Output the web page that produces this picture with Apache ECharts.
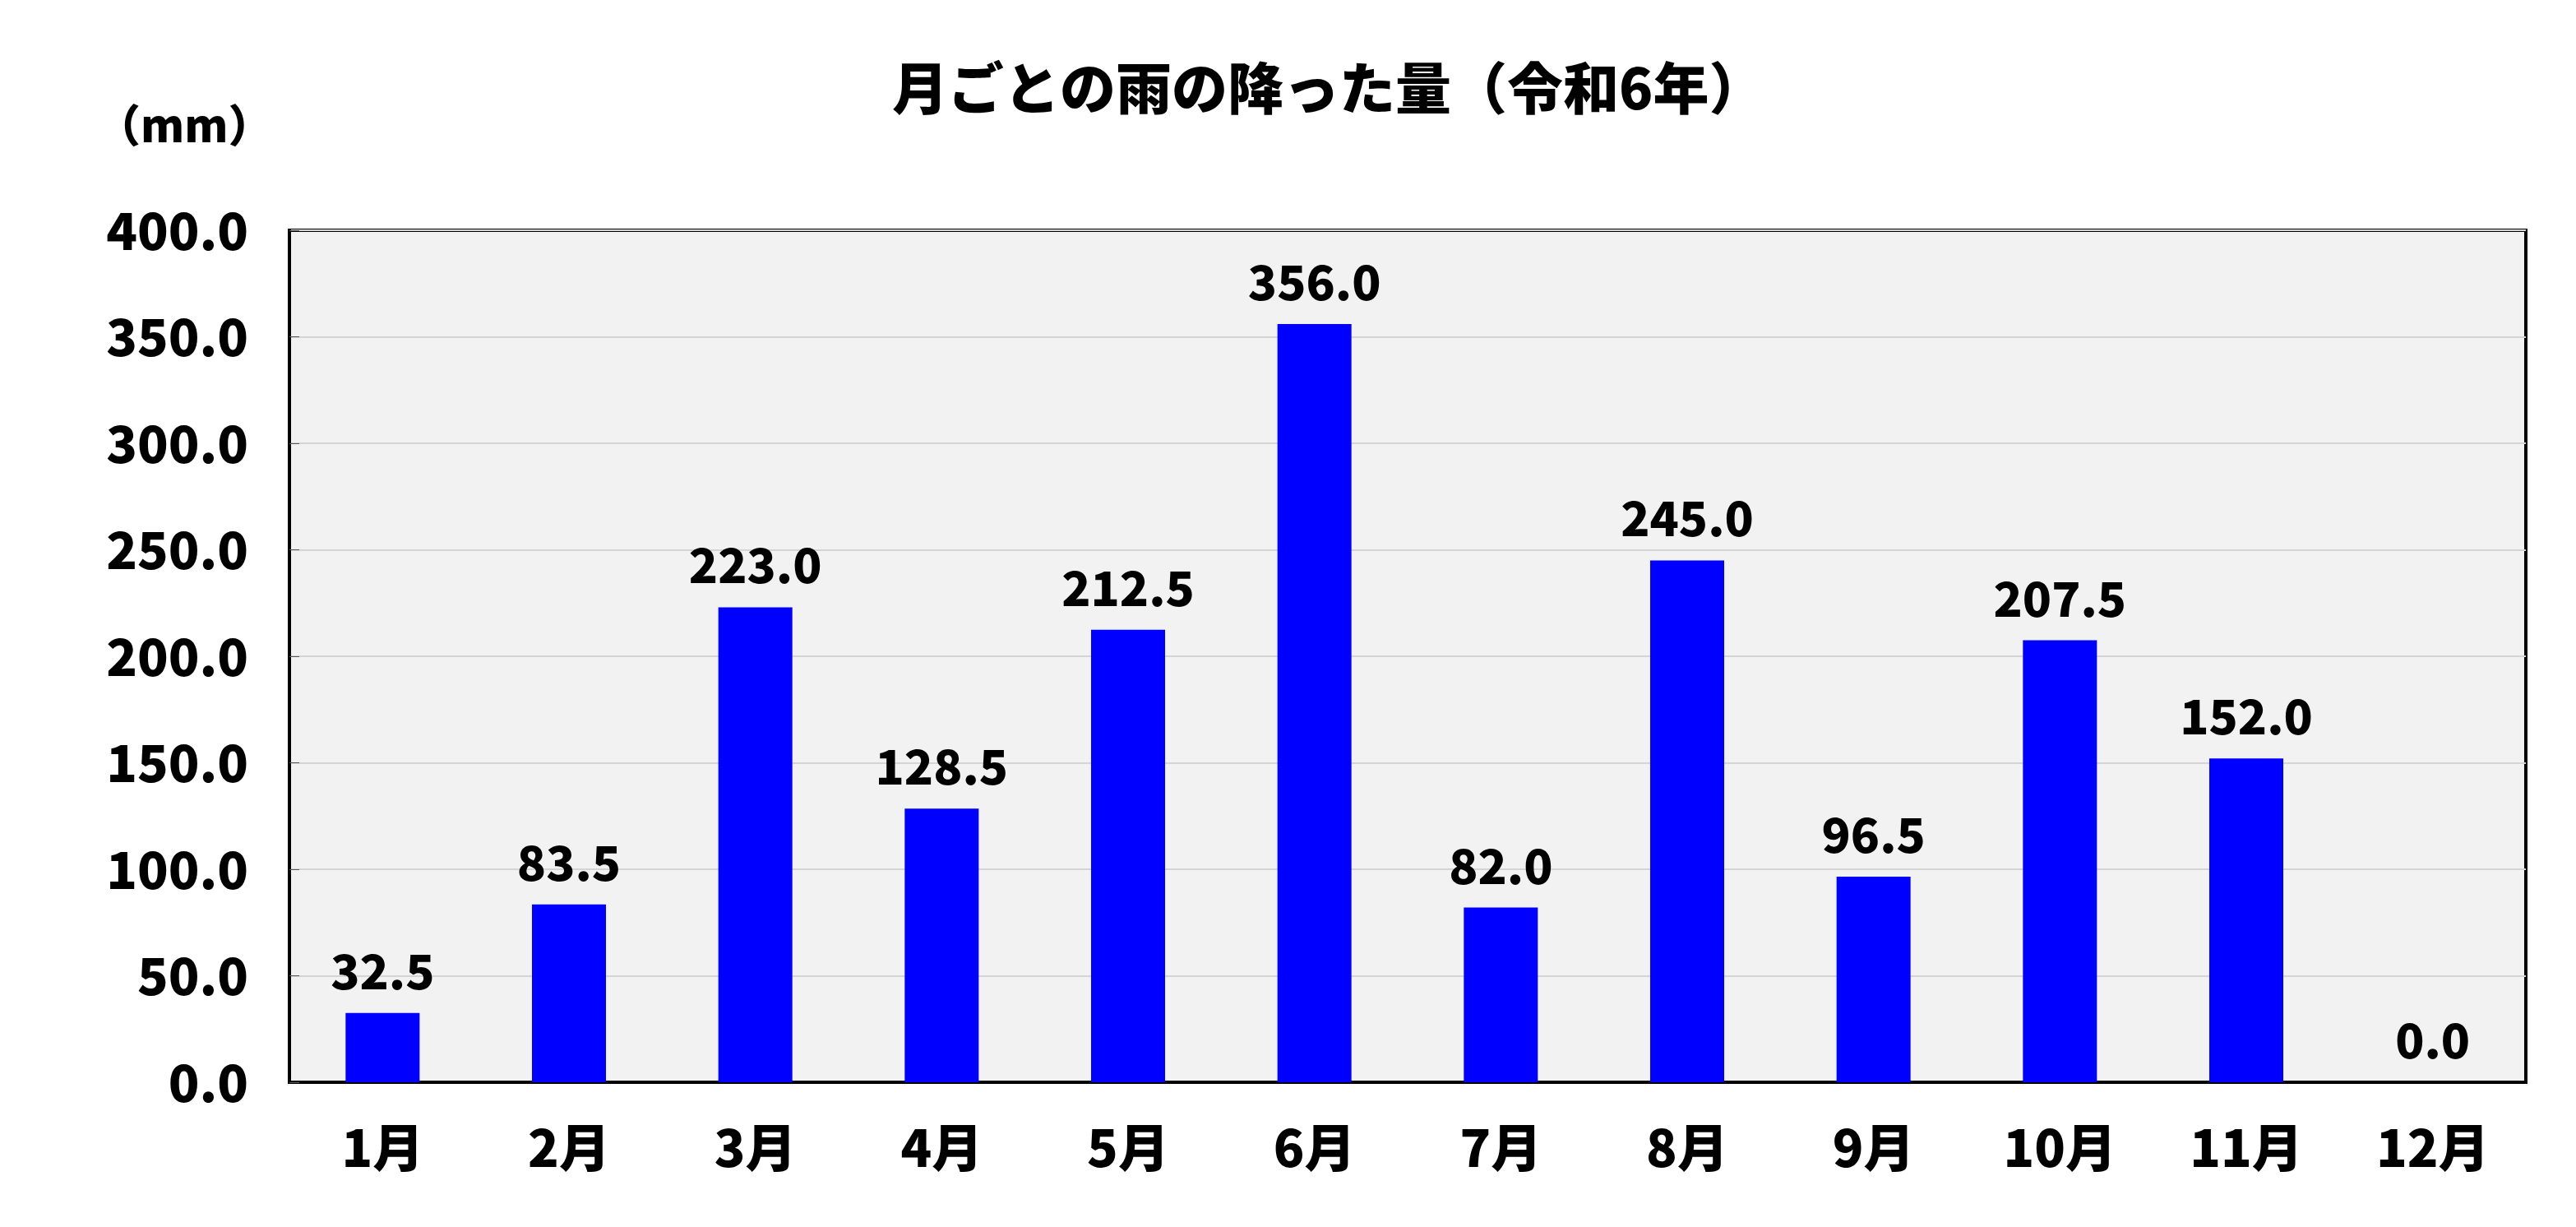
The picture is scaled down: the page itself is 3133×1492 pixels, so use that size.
<!DOCTYPE html>
<html>
<head>
<meta charset="utf-8">
<script src="https://cdn.jsdelivr.net/npm/echarts@6/dist/echarts.min.js"></script>
<style>
  html, body { margin: 0; padding: 0; background: #fff; }
  #main { width: 3133px; height: 1492px; }
</style>
</head>
<body>
<div id="main"></div>
<script>
var months = ['1月', '2月', '3月', '4月', '5月', '6月', '7月', '8月', '9月', '10月', '11月', '12月'];
var rainfall = [32.5, 83.5, 223.0, 128.5, 212.5, 356.0, 82.0, 245.0, 96.5, 207.5, 152.0, 0.0];
var yTicks = [0, 50, 100, 150, 200, 250, 300, 350, 400];

var font = '"Noto Sans CJK JP", "Noto Sans", sans-serif';
var myChart = echarts.init(document.getElementById('main'));

var option = {
  backgroundColor: '#ffffff',
  animation: false,
  title: [
    {
      text: '月ごとの雨の降った量（令和6年）',
      left: 1080,
      top: 68,
      textStyle: { fontFamily: font, fontWeight: 900, fontSize: 68, color: '#000' }
    },
    {
      text: '（mm）',
      left: 112,
      top: 120,
      textStyle: { fontFamily: font, fontWeight: 900, fontSize: 54, color: '#000' }
    }
  ],
  grid: {
    left: 352,
    right: 61,
    top: 280,
    bottom: 176,
    show: true,
    backgroundColor: '#f2f2f2',
    borderColor: '#000',
    borderWidth: 4
  },
  xAxis: {
    type: 'category',
    data: months,
    axisLine: { lineStyle: { color: '#000', width: 4 } },
    axisTick: { inside: true, length: 16, lineStyle: { color: '#222', width: 1 } },
    axisLabel: {
      margin: 48,
      fontFamily: font,
      fontWeight: 900,
      fontSize: 62,
      color: '#000'
    }
  },
  yAxis: {
    type: 'value',
    min: yTicks[0],
    max: yTicks[yTicks.length - 1],
    interval: yTicks[1] - yTicks[0],
    axisLine: { show: true, lineStyle: { color: '#000', width: 4 } },
    axisTick: { show: true, inside: true, length: 12, lineStyle: { color: '#555', width: 1 } },
    splitLine: { lineStyle: { color: '#d4d4d4', width: 2 } },
    axisLabel: {
      margin: 50,
      fontFamily: font,
      fontWeight: 900,
      fontSize: 62,
      color: '#000',
      formatter: function (v) { return v.toFixed(1); }
    }
  },
  series: [
    {
      type: 'bar',
      data: rainfall,
      barWidth: 90,
      itemStyle: { color: '#0000ff' },
      label: {
        show: true,
        position: 'top',
        distance: 22,
        fontFamily: font,
        fontWeight: 900,
        fontSize: 58,
        color: '#000',
        formatter: function (p) { return p.value.toFixed(1); }
      }
    }
  ]
};

myChart.setOption(option);
</script>
</body>
</html>
